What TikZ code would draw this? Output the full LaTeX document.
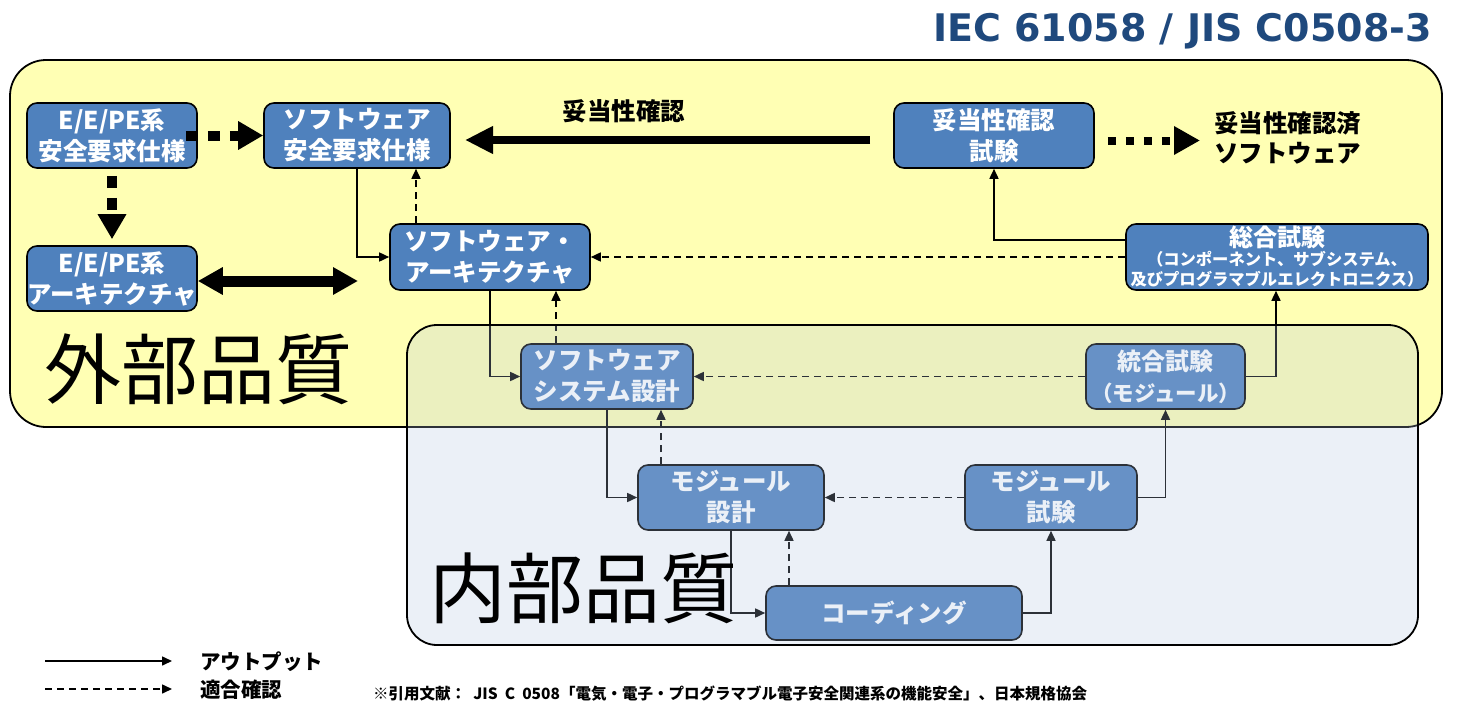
\documentclass[tikz,border=0pt]{standalone}
\usepackage{fontspec}
\newfontfamily\jp{Noto Sans CJK JP}
\newfontfamily\ttlfont{DejaVu Sans}
\usetikzlibrary{arrows.meta,calc}
\definecolor{yel}{RGB}{255,255,180}
\definecolor{boxblue}{RGB}{79,129,189}
\definecolor{ovl}{RGB}{176,196,227}
\definecolor{ttlblue}{RGB}{31,73,125}
\begin{document}
\begin{tikzpicture}[x=1pt,y=-1pt,
  box/.style={rounded corners=10pt, fill=boxblue, draw=black, line width=1.6pt, text=white,
    font=\jp\bfseries\fontsize{24.5}{31}\selectfont, align=center, inner sep=0pt},
  outp/.style={-{Triangle[length=10pt,width=9pt]}, line width=1.6pt},
  chk/.style={outp, dash pattern=on 7pt off 5pt},
  thickdot/.style={-{Triangle[length=25pt,width=27pt]}, line width=10pt, dash pattern=on 12pt off 10pt},
  thickdotb/.style={-{Triangle[length=26pt,width=27pt]}, line width=8pt, dash pattern=on 8pt off 10pt},
  dblarrow/.style={{Triangle[length=25pt,width=26pt]}-{Triangle[length=25pt,width=26pt]}, line width=11pt},
  bigarrow/.style={-{Triangle[length=28pt,width=26pt]}, line width=8pt},
  lbl/.style={font=\jp\bfseries\fontsize{24.5}{30}\selectfont, inner sep=0pt, align=left},
  leg/.style={font=\jp\bfseries\fontsize{20.5}{24}\selectfont, inner sep=0pt, anchor=west},
  big/.style={font=\jp\fontsize{77}{82}\selectfont, inner sep=0pt, anchor=west}]
\useasboundingbox (0,0) rectangle (1457,720);
\fill[white] (0,0) rectangle (1457,720);

% title
\node[anchor=east, inner sep=0pt, text=ttlblue, font=\ttlfont\bfseries\fontsize{38}{42}\selectfont] (title) at (1432,31) {IEC 61058 / JIS C0508-3};

% outer quality area
\draw[fill=yel, line width=1.8pt, rounded corners=36pt] (10,60) rectangle (1442,427);
\node[big] (ext) at (44,369) {外部品質};

% nodes
\node[box, minimum width=170pt, minimum height=65pt] (n1) at (112,135.5) {E/E/PE系\\安全要求仕様};
\node[box, minimum width=186pt, minimum height=65pt] (n2) at (357,135.5) {ソフトウェア\\安全要求仕様};
\node[box, minimum width=170pt, minimum height=65pt] (n3) at (112,278.5) {E/E/PE系\\アーキテクチャ};
\node[box, minimum width=200pt, minimum height=66pt] (n4) at (490,257) {ソフトウェア・\\アーキテクチャ};
\node[box, minimum width=200pt, minimum height=65pt] (n5) at (994,135.5) {妥当性確認\\試験};
\node[box, minimum width=302pt, minimum height=66pt, font=\jp\bfseries\fontsize{16.3}{20}\selectfont] (n6) at (1277,257)
  {{\fontsize{24}{24}\selectfont 総合試験}\\[-1pt]（コンポーネント、サブシステム、\\及びプログラマブルエレクトロニクス）};
\node[box, minimum width=172pt, minimum height=65pt] (n7) at (607,376.5) {ソフトウェア\\システム設計};
\node[box, minimum width=159pt, minimum height=65pt, font=\jp\bfseries\fontsize{21.5}{31}\selectfont] (n8) at (1165.5,376.5) {{\fontsize{24}{31}\selectfont 統合試験}\\（モジュール）};
\node[box, minimum width=186pt, minimum height=65pt] (n9) at (731,497.5) {モジュール\\設計};
\node[box, minimum width=172pt, minimum height=65pt] (n10) at (1051,497.5) {モジュール\\試験};
\node[box, minimum width=256pt, minimum height=54pt] (n11) at (894,613) {コーディング};

% top thick connectors
\draw[thickdot] ([xshift=-12pt]n1.east) -- (n2.west);
\draw[thickdot] ([yshift=-7pt]n1.south) -- ([yshift=6pt]n3.north);
\coordinate (dblend) at (358,281);
\draw[dblarrow] (n3.east |- dblend) -- (dblend);
\coordinate (valstart) at (870,140);
\coordinate (valend) at (465,140);
\draw[bigarrow] (valstart) -- (valend);
\node[lbl] (vallbl) at (624,111) {妥当性確認};
\node[lbl, anchor=west] (valsw) at (1214,138) {妥当性確認済\\ソフトウェア};
\draw[thickdotb] ([xshift=13pt,yshift=-5pt]n5.east) -- ([xshift=-14pt,yshift=-5pt]n5.east -| valsw.west);

% thin connectors
\draw[outp] (n2.south) |- (n4.west);
\draw[chk] ([xshift=-74pt]n4.north) -- ([xshift=-74pt]n4.north |- n2.south);
\draw[chk] (n6.west) -- (n4.east);
\draw[outp] ([yshift=17pt]n6.west) -| (n5.south);
\draw[outp] (n4.south) |- (n7.west);
\draw[chk] ([xshift=-51pt]n7.north) -- ([xshift=-51pt]n7.north |- n4.south);
\draw[chk] (n8.west) -- (n7.east);
\draw[outp] (n8.east) -| ([xshift=-1pt]n6.south);
\draw[outp] (n7.south) |- (n9.west);
\draw[chk] ([xshift=-70pt]n9.north) -- ([xshift=-70pt]n9.north |- n7.south);
\draw[chk] (n10.west) -- (n9.east);
\draw[outp] (n10.east) -| (n8.south);
\draw[outp] (n9.south) |- (n11.west);
\draw[chk] ([xshift=-105pt]n11.north) -- ([xshift=-105pt]n11.north |- n9.south);
\draw[outp] (n11.east) -| (n10.south);

% inner quality area (translucent overlay)
\fill[ovl, fill opacity=0.25, rounded corners=30pt] (407,325) rectangle (1418,645);
\draw[line width=1.8pt, rounded corners=30pt] (407,325) rectangle (1418,645);
\node[big] (int) at (429,588) {内部品質};

% legend
\coordinate (l1a) at (45,661);
\coordinate (l1b) at (172,661);
\coordinate (l2a) at (45,689);
\coordinate (l2b) at (172,689);
\draw[outp] (l1a) -- (l1b);
\draw[chk] (l2a) -- (l2b);
\node[leg] (leg1) at (200,662) {アウトプット};
\node[leg] (leg2) at (200,690) {適合確認};

% reference
\node[anchor=west, inner sep=0pt, font=\jp\bfseries\fontsize{15.5}{18}\selectfont] (ref) at (373,694)
  {※引用文献：\ \ JIS\ \ C\ \ 0508「電気・電子・プログラマブル電子安全関連系の機能安全」、日本規格協会};
\end{tikzpicture}
\end{document}
